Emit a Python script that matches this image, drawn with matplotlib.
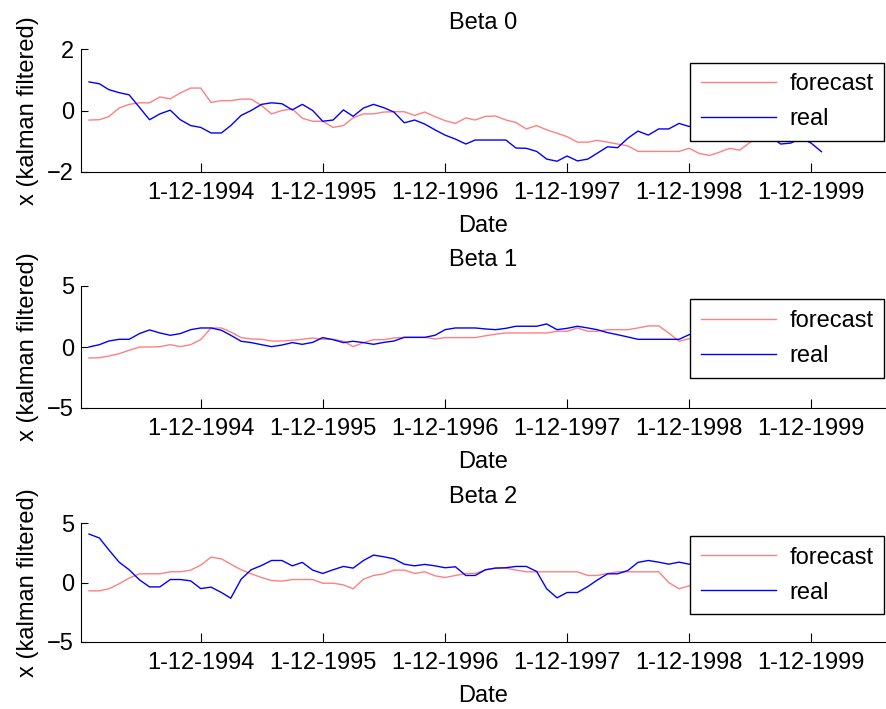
import numpy as np
import pandas as pd
import matplotlib
matplotlib.use("Agg")
import matplotlib.pyplot as plt

plt.rcParams['font.family'] = ['Liberation Sans', 'DejaVu Sans']
plt.rcParams['font.size'] = 17

# monthly observations, Jan 1994 .. Jan 2000
dates = pd.date_range('1994-01-01', periods=73, freq='MS')

tick_dates = pd.to_datetime(['1994-12-01', '1995-12-01', '1996-12-01',
                             '1997-12-01', '1998-12-01', '1999-12-01'])
tick_labels = ['1-12-1994', '1-12-1995', '1-12-1996',
               '1-12-1997', '1-12-1998', '1-12-1999']

titles = ['Beta 0', 'Beta 1', 'Beta 2']

beta0_forecast = [-0.31, -0.30, -0.20, 0.08, 0.20, 0.25, 0.25, 0.44, 0.38, 0.57,
                  0.73, 0.73, 0.26, 0.32, 0.32, 0.37, 0.37, 0.16, -0.11, 0.00,
                  0.05, -0.25, -0.35, -0.35, -0.55, -0.49, -0.24, -0.11, -0.11, -0.05,
                  -0.04, -0.04, -0.16, -0.05, -0.20, -0.33, -0.42, -0.24, -0.31, -0.19,
                  -0.18, -0.31, -0.39, -0.60, -0.49, -0.63, -0.74, -0.85, -1.03, -1.03,
                  -0.97, -1.03, -1.09, -1.15, -1.33, -1.33, -1.33, -1.33, -1.33, -1.23,
                  -1.40, -1.46, -1.36, -1.23, -1.29, -1.04, -0.80, -0.70, -0.75, -0.72,
                  -0.66, -0.62, -0.60]
beta0_real = [0.93, 0.87, 0.68, 0.58, 0.51, 0.10, -0.30, -0.11, 0.01, -0.30,
              -0.49, -0.55, -0.73, -0.73, -0.49, -0.16, 0.00, 0.20, 0.25, 0.22,
              0.02, 0.20, 0.00, -0.35, -0.31, 0.02, -0.19, 0.08, 0.20, 0.09,
              -0.05, -0.40, -0.31, -0.44, -0.63, -0.80, -0.93, -1.09, -0.96, -0.96,
              -0.96, -0.96, -1.22, -1.23, -1.33, -1.58, -1.65, -1.48, -1.64, -1.58,
              -1.39, -1.18, -1.21, -0.90, -0.67, -0.80, -0.60, -0.60, -0.42, -0.52,
              -0.45, -0.55, -0.65, -0.70, -0.75, -0.70, -0.78, -0.85, -1.09, -1.06,
              -0.90, -1.06, -1.34]

beta1_forecast = [-0.90, -0.88, -0.74, -0.55, -0.27, 0.00, 0.00, 0.03, 0.19, 0.03,
                  0.19, 0.60, 1.56, 1.56, 1.23, 0.77, 0.66, 0.63, 0.49, 0.49,
                  0.55, 0.63, 0.74, 0.63, 0.63, 0.47, 0.03, 0.36, 0.60, 0.60,
                  0.74, 0.79, 0.79, 0.79, 0.66, 0.77, 0.77, 0.77, 0.77, 0.92,
                  1.05, 1.15, 1.15, 1.15, 1.15, 1.15, 1.29, 1.29, 1.56, 1.29,
                  1.29, 1.42, 1.42, 1.42, 1.56, 1.73, 1.73, 1.15, 0.47, 0.68,
                  0.90, 1.00, 1.10, 1.20, 1.10, 1.00, 1.20, 1.30, 1.20, 1.10,
                  1.20, 1.30, 1.40]
beta1_real = [0.00, 0.19, 0.49, 0.63, 0.63, 1.10, 1.40, 1.15, 0.96, 1.10,
              1.42, 1.56, 1.56, 1.37, 0.96, 0.47, 0.36, 0.19, 0.03, 0.16,
              0.36, 0.22, 0.38, 0.77, 0.60, 0.36, 0.47, 0.36, 0.22, 0.38,
              0.49, 0.79, 0.79, 0.79, 0.96, 1.42, 1.56, 1.56, 1.56, 1.48,
              1.42, 1.53, 1.70, 1.70, 1.70, 1.89, 1.42, 1.53, 1.70, 1.56,
              1.42, 1.18, 1.01, 0.82, 0.63, 0.63, 0.63, 0.63, 0.63, 1.01,
              1.10, 1.20, 1.00, 0.90, 1.10, 1.30, 1.20, 1.00, 1.10, 1.20,
              1.30, 1.20, 1.10]

beta2_forecast = [-0.70, -0.70, -0.53, -0.11, 0.37, 0.73, 0.73, 0.73, 0.90, 0.90,
                  1.04, 1.46, 2.13, 1.99, 1.54, 1.07, 0.73, 0.42, 0.17, 0.11,
                  0.25, 0.25, 0.25, -0.06, -0.06, -0.20, -0.53, 0.28, 0.59, 0.73,
                  1.04, 1.04, 0.76, 0.90, 0.56, 0.42, 0.59, 0.76, 0.76, 1.07,
                  1.21, 1.21, 1.04, 0.90, 0.90, 0.90, 0.90, 0.90, 0.90, 0.59,
                  0.59, 0.76, 0.90, 0.90, 0.90, 0.90, 0.90, 0.00, -0.53, -0.28,
                  -0.10, 0.20, 0.40, 0.50, 0.60, 0.50, 0.70, 0.80, 0.70, 0.60,
                  0.80, 0.90, 0.80]
beta2_real = [4.07, 3.74, 2.75, 1.71, 1.07, 0.22, -0.37, -0.37, 0.25, 0.25,
              0.14, -0.51, -0.39, -0.84, -1.32, 0.28, 1.07, 1.43, 1.85, 1.85,
              1.40, 1.69, 1.04, 0.76, 1.07, 1.35, 1.21, 1.85, 2.30, 2.16,
              1.99, 1.54, 1.40, 1.52, 1.40, 1.24, 1.32, 0.59, 0.59, 1.07,
              1.21, 1.24, 1.35, 1.35, 0.93, -0.53, -1.29, -0.84, -0.84, -0.34,
              0.20, 0.73, 0.73, 1.01, 1.69, 1.85, 1.71, 1.54, 1.71, 1.54,
              1.60, 1.50, 1.70, 1.60, 1.40, 1.50, 1.70, 1.80, 1.60, 1.50,
              1.40, 1.60, 1.50]

forecasts = [beta0_forecast, beta1_forecast, beta2_forecast]
reals = [beta0_real, beta1_real, beta2_real]
ylims = [(-2, 2), (-5, 5), (-5, 5)]
yticks = [[-2, 0, 2], [-5, 0, 5], [-5, 0, 5]]

fig = plt.figure(figsize=(8.87, 7.09), dpi=100)
W, H = 887, 709
# axes boxes in pixels: (left, top, right, bottom)
boxes = [(81, 49, 886, 172), (81, 286, 886, 408), (81, 523, 886, 642)]

for i in range(3):
    l, t, r, b = boxes[i]
    ax = fig.add_axes([l / W, 1 - b / H, (r - l) / W, (b - t) / H])
    ax.plot(dates, forecasts[i], color=(1, 0.5, 0.5), lw=1.0, label='forecast')
    ax.plot(dates, reals[i], color='#0000ff', lw=1.0, label='real')
    ax.set_xlim(pd.Timestamp('1993-12-08'), pd.Timestamp('2000-07-12'))
    ax.set_ylim(*ylims[i])
    ax.set_yticks(yticks[i])
    ax.set_xticks(tick_dates)
    ax.set_xticklabels(tick_labels)
    ax.spines['top'].set_visible(False)
    ax.spines['right'].set_visible(False)
    for s in ['left', 'bottom']:
        ax.spines[s].set_linewidth(0.8)
    ax.tick_params(axis='x', direction='in', length=6.7, width=0.8, pad=7)
    ax.tick_params(axis='y', direction='in', length=5.3, width=0.8, pad=5)
    ax.set_title(titles[i], pad=14.5, fontsize=17)
    ax.set_xlabel('Date', labelpad=8)
    ax.set_ylabel('x (kalman filtered)', labelpad=6)
    leg = ax.legend(loc='upper right', bbox_to_anchor=(0.9975, 0.89),
                    borderaxespad=0, fancybox=False, framealpha=1,
                    edgecolor='black', handlelength=3.2, handletextpad=0.55,
                    labelspacing=0.55, borderpad=0.45)
    leg.get_frame().set_linewidth(1.0)

fig.savefig('out.png', dpi=100)
